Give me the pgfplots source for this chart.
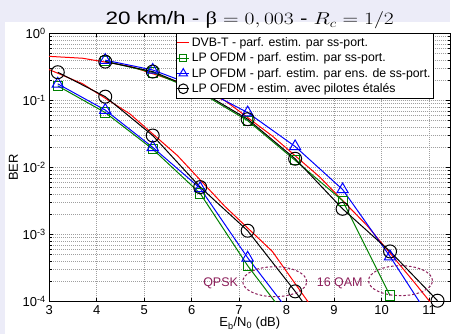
\documentclass[border=0pt]{standalone}
\usepackage{fontspec}
\setmainfont{Liberation Sans}
\newfontfamily\serifgr{Liberation Serif}
\usepackage{pgfplots}
\pgfplotsset{compat=1.18}
\usetikzlibrary{backgrounds}

\definecolor{mgreen}{RGB}{0,128,0}
\definecolor{annot}{RGB}{140,30,90}
\definecolor{bgframe}{RGB}{236,236,248}

\begin{document}
\begin{tikzpicture}
\begin{axis}[
  name=ber,
  scale only axis,
  width=401.7pt, height=268.5pt,
  xmin=3, xmax=11.45,
  ymode=log, ymin=1e-4, ymax=1,
  xtick={3,4,...,11},
  ytick={1e-4,1e-3,1e-2,1e-1,1},
  yticklabels={10\textsuperscript{-4},10\textsuperscript{-3},10\textsuperscript{-2},10\textsuperscript{-1},10\textsuperscript{0}},
  minor x tick num=0,
  tick align=inside,
  major tick length=4pt, minor tick length=2.5pt,
  tick style={black, line width=0.6pt},
  axis line style={line width=1.3pt},
  grid=both,
  major grid style={gray!75, line width=0.5pt, dash pattern=on 1pt off 1pt},
  minor grid style={gray!75, line width=0.5pt, dash pattern=on 1pt off 1pt},
  /pgf/number format/assume math mode=true,
  tick label style={font=\fontsize{13}{14}\selectfont},
  xlabel={E\textsubscript{b}/N\textsubscript{0} (dB)},
  ylabel={BER},
  label style={font=\fontsize{13}{14}\selectfont},
  xlabel style={yshift=4pt},
  ylabel style={yshift=-2pt},
  legend style={at={(0.315,1)}, anchor=north west, draw=black,
    font=\fontsize{12.3}{14}\selectfont, inner xsep=1pt, inner ysep=2pt, row sep=0.9pt,
    cells={anchor=west}},
  legend image code/.code={
    \draw[#1, mark=none] (0pt,0pt) -- (12pt,0pt);
    \draw[#1, only marks, mark indices={1}, every mark/.append style={scale=0.75}] plot coordinates {(6pt,0pt)};
  },
  every axis plot/.append style={line width=1pt},
]
% DVB-T, QPSK
\addplot[red, no marks] coordinates {
  (2.7,0.355) (3.7,0.178) (4.7,0.063) (5.7,0.0151) (6.7,0.00263) (7.7,0.00056) (8.7,5.6e-5)
};
\addlegendentry{DVB-T - parf. estim. par ss-port.}
% LP OFDM parf. estim. par ss-port., QPSK
\addplot[mgreen, mark=square, mark size=4.6pt, mark indices={1,...,5}] coordinates {
  (3.18,0.165) (4.18,0.066) (5.18,0.0188) (6.18,0.0041) (7.18,0.000343) (8.18,4e-5)
};
\addlegendentry{LP OFDM - parf. estim. par ss-port.}
% LP OFDM parf. estim. par ens. de ss-port., QPSK
\addplot[blue, mark=triangle, mark size=6.5pt, mark indices={1,...,5}] coordinates {
  (3.18,0.177) (4.18,0.072) (5.18,0.020) (6.18,0.0049) (7.18,0.00045) (8.18,5.4e-5)
};
\addlegendentry{LP OFDM - parf. estim. par ens. de ss-port.}
% LP OFDM pilotes etales, QPSK
\addplot[black, mark=o, mark size=6.5pt, mark indices={1,...,6}] coordinates {
  (3.18,0.264) (4.18,0.114) (5.18,0.030) (6.18,0.0051) (7.18,0.00114) (8.18,0.000142) (9.18,1.5e-5)
};
\addlegendentry{LP OFDM - estim. avec pilotes étalés}

% 16 QAM
\addplot[red, no marks, forget plot] coordinates {
  (2.7,0.468) (3.7,0.427) (4.7,0.324) (5.7,0.19) (6.7,0.10) (7.7,0.0295) (8.7,0.0072)
  (9.7,0.00135) (10.7,0.00019) (11.7,2.5e-5)
};
\addplot[mgreen, mark=square, mark size=4.6pt, forget plot] coordinates {
  (4.18,0.385) (5.18,0.262) (6.18,0.132) (7.18,0.050) (8.18,0.0128) (9.18,0.0032) (10.18,0.000123)
};
\addplot[blue, mark=triangle, mark size=6.5pt, mark indices={1,...,7}, forget plot] coordinates {
  (4.18,0.40) (5.18,0.285) (6.18,0.155) (7.18,0.066) (8.18,0.0206) (9.18,0.0047) (10.18,0.00047) (11.18,3.8e-5)
};
\addplot[black, mark=o, mark size=6.5pt, forget plot] coordinates {
  (4.18,0.38) (5.18,0.27) (6.18,0.138) (7.18,0.0526) (8.18,0.0135) (9.18,0.00242) (10.18,0.00056) (11.18,0.000103)
};

\draw[annot, line width=1pt, dash pattern=on 2.5pt off 2pt] (axis cs:7.75,1.98e-4) ellipse[x radius=32pt, y radius=15pt];
\draw[annot, line width=1pt, dash pattern=on 2.5pt off 2pt] (axis cs:10.40,2.05e-4) ellipse[x radius=32pt, y radius=15pt];
\node[annot, font=\fontsize{12.5}{13}\selectfont] at (axis cs:6.61,1.85e-4) {QPSK};
\node[annot, font=\fontsize{12.5}{13}\selectfont] at (axis cs:9.12,1.9e-4) {16 QAM};
\end{axis}

\node[anchor=base, font=\fontsize{18}{20}\selectfont, xscale=1.25, transform shape] at ([yshift=9pt]ber.north)
  {20 km/h - {\serifgr β} $= 0,003$ - $R_c = 1/2$};

\begin{scope}[on background layer]
  \fill[bgframe] ([xshift=-49.3pt,yshift=-32pt]ber.south west) rectangle ([yshift=33.5pt]ber.north east);
  \fill[white] ([xshift=-44.3pt,yshift=-32pt]ber.south west) rectangle ([yshift=11.5pt]ber.north east);
\end{scope}
\useasboundingbox ([xshift=-49.3pt,yshift=-32pt]ber.south west) rectangle ([yshift=33.5pt]ber.north east);
\end{tikzpicture}
\end{document}
